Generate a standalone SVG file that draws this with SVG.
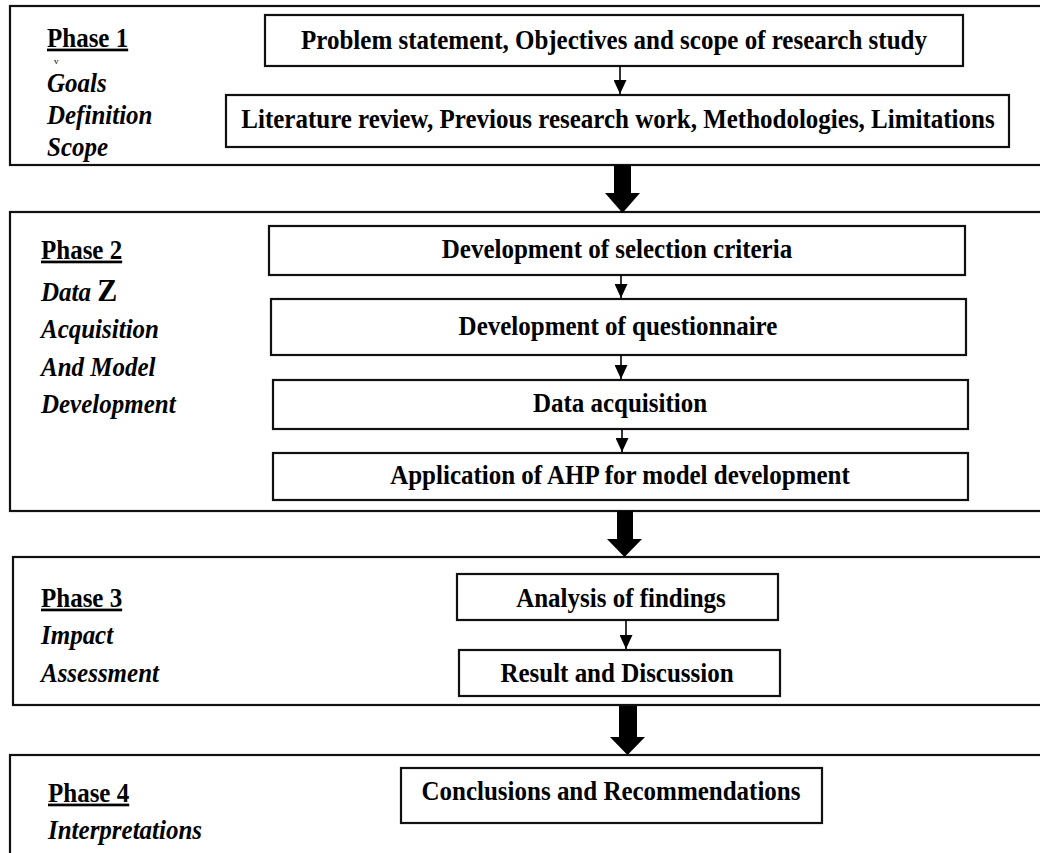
<svg xmlns="http://www.w3.org/2000/svg" width="1040" height="853" viewBox="0 0 1040 853">
  <style>
    .phase { fill: #ffffff; stroke: #111111; stroke-width: 2.2; }
    .step { fill: #ffffff; stroke: #111111; stroke-width: 2.2; }
    .t { font-family: "Liberation Serif", "Times New Roman", serif; font-size: 25px; font-weight: bold; fill: #000000;
         transform-box: fill-box; transform-origin: 50% 100%; transform: scaleY(1.08); }
    .c { text-anchor: middle; }
    .title { text-decoration: underline; }
    .it { font-style: italic; }
    .link { stroke: #000000; stroke-width: 1.6; fill: none; marker-end: url(#head); }
    .big { fill: #000000; }
  </style>
  <defs>
    <marker id="head" markerUnits="userSpaceOnUse" markerWidth="14" markerHeight="13" viewBox="0 0 14 13" refX="14" refY="6.5" orient="auto">
      <path d="M0,0 L14,6.5 L0,13 z" fill="#000000"/>
    </marker>
  </defs>

  <!-- Phase 1: goals, definition, scope -->
  <g id="phase1">
    <rect class="phase" x="10" y="6" width="1040" height="159"/>
    <text class="t title" x="47" y="47">Phase 1</text>
    <text x="54" y="64" font-family="Liberation Serif, serif" font-size="9" fill="#000">v</text>
    <text class="t it" x="47" y="92">Goals</text>
    <text class="t it" x="47" y="124">Definition</text>
    <text class="t it" x="47" y="156">Scope</text>
  </g>
  <g id="problem-statement">
    <rect class="step" x="265" y="15" width="698" height="51"/>
    <text class="t c" x="614" y="49">Problem statement, Objectives and scope of research study</text>
  </g>
  <g id="literature-review">
    <rect class="step" x="226" y="95" width="783" height="52"/>
    <text class="t c" x="618" y="128">Literature review, Previous research work, Methodologies, Limitations</text>
  </g>

  <!-- Phase 2: data acquisition and model development -->
  <g id="phase2">
    <rect class="phase" x="10" y="212" width="1040" height="299"/>
    <text class="t title" x="41" y="259">Phase 2</text>
    <text class="t it" x="41" y="302">Data <tspan font-style="normal" font-size="30">Z</tspan></text>
    <text class="t it" x="41" y="338">Acquisition</text>
    <text class="t it" x="41" y="376">And Model</text>
    <text class="t it" x="41" y="413">Development</text>
  </g>
  <g id="selection-criteria">
    <rect class="step" x="269" y="226" width="696" height="49"/>
    <text class="t c" x="617" y="258">Development of selection criteria</text>
  </g>
  <g id="questionnaire">
    <rect class="step" x="271" y="299" width="695" height="56"/>
    <text class="t c" x="618" y="335">Development of questionnaire</text>
  </g>
  <g id="data-acquisition">
    <rect class="step" x="273" y="380" width="695" height="49"/>
    <text class="t c" x="620" y="412">Data acquisition</text>
  </g>
  <g id="ahp-model">
    <rect class="step" x="273" y="453" width="695" height="47"/>
    <text class="t c" x="620" y="484">Application of AHP for model development</text>
  </g>

  <!-- Phase 3: impact assessment -->
  <g id="phase3">
    <rect class="phase" x="13" y="557" width="1040" height="148"/>
    <text class="t title" x="41" y="607">Phase 3</text>
    <text class="t it" x="41" y="644">Impact</text>
    <text class="t it" x="41" y="682">Assessment</text>
  </g>
  <g id="analysis">
    <rect class="step" x="457" y="574" width="321" height="46"/>
    <text class="t c" x="621" y="607">Analysis of findings</text>
  </g>
  <g id="result">
    <rect class="step" x="459" y="650" width="321" height="46"/>
    <text class="t c" x="617" y="682">Result and Discussion</text>
  </g>

  <!-- Phase 4: interpretations -->
  <g id="phase4">
    <rect class="phase" x="10" y="755" width="1040" height="110"/>
    <text class="t title" x="48" y="802">Phase 4</text>
    <text class="t it" x="48" y="839">Interpretations</text>
  </g>
  <g id="conclusions">
    <rect class="step" x="401" y="768" width="421" height="55"/>
    <text class="t c" x="611" y="800">Conclusions and Recommendations</text>
  </g>

  <!-- Connectors -->
  <g id="connectors">
    <line class="link" x1="620" y1="66" x2="620" y2="94"/>
    <line class="link" x1="621" y1="275" x2="621" y2="298"/>
    <line class="link" x1="621" y1="355" x2="621" y2="379"/>
    <line class="link" x1="622" y1="429" x2="622" y2="452"/>
    <line class="link" x1="626" y1="620" x2="626" y2="649"/>
    <polygon class="big" points="614,165 631,165 631,193 640,193 622.5,213 605,193 614,193"/>
    <polygon class="big" points="617,511 633,511 633,539 642,539 624.5,557 607,539 617,539"/>
    <polygon class="big" points="619,706 637,706 637,737 645,737 627.5,755 610,737 619,737"/>
  </g>
</svg>
